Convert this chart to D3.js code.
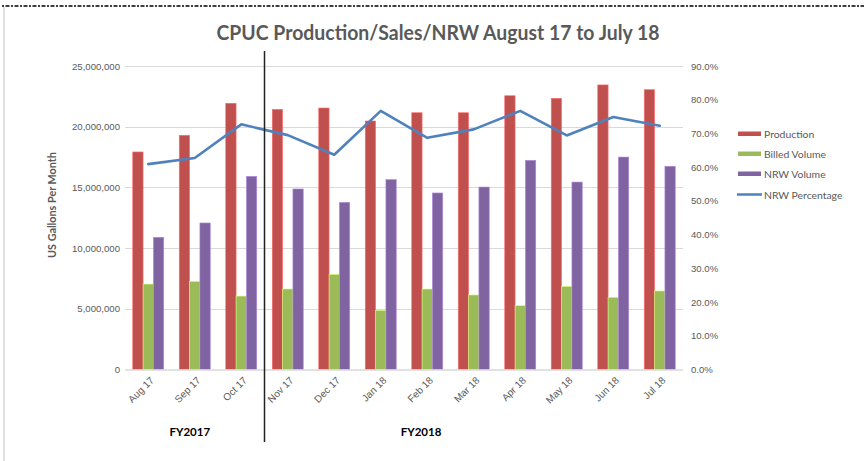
<!DOCTYPE html>
<html>
<head>
<meta charset="utf-8">
<script src="https://cdn.jsdelivr.net/npm/d3@7"></script>
<style>
  html, body { margin: 0; padding: 0; background: #fff; }
  svg { display: block; font-family: Lato, "Open Sans", sans-serif; }
</style>
</head>
<body>
<svg id="chart" width="864" height="461"></svg>
<script>
const months = ["Aug 17","Sep 17","Oct 17","Nov 17","Dec 17","Jan 18","Feb 18","Mar 18","Apr 18","May 18","Jun 18","Jul 18"];
const production = [17920000,19290000,21930000,21430000,21540000,20470000,21150000,21150000,22550000,22340000,23440000,23050000];
const billed     = [7040000,7260000,6050000,6630000,7840000,4870000,6630000,6140000,5260000,6850000,5950000,6470000];
const nrwVolume  = [10890000,12070000,15910000,14870000,13770000,15640000,14540000,15030000,17230000,15440000,17500000,16740000];
const nrwPct     = [60.9,62.7,72.7,69.5,63.7,76.7,68.7,71.2,76.7,69.4,74.9,72.3];
const leftTicks  = [0,5000000,10000000,15000000,20000000,25000000];
const rightTicks = [0,10,20,30,40,50,60,70,80,90];
const seriesNames = ["Production","Billed Volume","NRW Volume"];
const seriesColors = ["#C0504D","#9BBB59","#8064A2"];
const lineName = "NRW Percentage";
const lineColor = "#4F81BD";
const fiscalYears = [{label:"FY2017", from:0, to:2},{label:"FY2018", from:3, to:11}];

const svg = d3.select("#chart");
const plot = {left:125, right:683, top:66, bottom:369.5};

// frame
svg.append("line").attr("x1",2).attr("x2",864).attr("y1",6).attr("y2",6)
  .attr("stroke","#000").attr("stroke-width",1.3).attr("stroke-dasharray","2,1.5,4,1.5");
svg.append("line").attr("x1",4).attr("x2",4).attr("y1",7).attr("y2",461)
  .attr("stroke","#e0e0e0").attr("stroke-width",2);

const x = d3.scaleBand().domain(months).range([plot.left, plot.right]).padding(0);
const xs = d3.scaleBand().domain(seriesNames).range([0, x.bandwidth()]).paddingInner(0).paddingOuter(0.75);
const y = d3.scaleLinear().domain([0,25000000]).range([plot.bottom, plot.top]);
const y2 = d3.scaleLinear().domain([0,90]).range([plot.bottom, plot.top]);

// gridlines
svg.append("g").selectAll("line").data(leftTicks.slice(1)).join("line")
  .attr("x1",plot.left).attr("x2",plot.right)
  .attr("y1",d=>Math.round(y(d))+0.5).attr("y2",d=>Math.round(y(d))+0.5)
  .attr("stroke","#d9d9d9").attr("stroke-width",1);

// left axis labels
const leftAxis = d3.axisLeft(y).tickValues(leftTicks).tickFormat(d3.format(",")).tickSize(0).tickPadding(5);
const gl = svg.append("g").attr("transform",`translate(${plot.left},0)`).call(leftAxis);
gl.select(".domain").remove();
gl.selectAll("text").attr("fill","#595959").style("font-size","9.6px").attr("dy","0.32em");

// right axis labels
const rightAxis = d3.axisRight(y2).tickValues(rightTicks).tickFormat(d=>d.toFixed(1)+"%").tickSize(0).tickPadding(8);
const gr = svg.append("g").attr("transform",`translate(${plot.right},0)`).call(rightAxis);
gr.select(".domain").remove();
gr.selectAll("text").attr("fill","#595959").style("font-size","9.6px").attr("dy","0.32em");

// bars
const seriesData = [production, billed, nrwVolume];
seriesData.forEach((arr, si) => {
  svg.append("g").selectAll("rect").data(arr).join("rect")
    .attr("x",(d,i)=>x(months[i]) + xs(seriesNames[si]))
    .attr("width",xs.bandwidth())
    .attr("y",d=>y(d))
    .attr("height",d=>y(0)-y(d))
    .attr("fill",seriesColors[si])
    .attr("stroke",d3.color(seriesColors[si]).brighter(0.9))
    .attr("stroke-width",0.6);
});

// baseline
svg.append("line").attr("x1",plot.left).attr("x2",plot.right)
  .attr("y1",plot.bottom+0.5).attr("y2",plot.bottom+0.5)
  .attr("stroke","#d9d9d9").attr("stroke-width",1.5);

// line
const line = d3.line().x((d,i)=>x(months[i])+x.bandwidth()/2).y(d=>y2(d));
svg.append("path").datum(nrwPct).attr("d",line)
  .attr("fill","none").attr("stroke",lineColor).attr("stroke-width",2.6)
  .attr("stroke-linejoin","round").attr("stroke-linecap","round");

// x labels
const xAxis = d3.axisBottom(x).tickSize(0).tickPadding(0);
const gx = svg.append("g").attr("transform",`translate(0,${plot.bottom})`).call(xAxis);
gx.select(".domain").remove();
gx.selectAll("text")
  .attr("fill","#595959").style("font-size","10px")
  .attr("text-anchor","end")
  .attr("transform","translate(4,9) rotate(-45)")
  .attr("dy","0.35em").attr("y",0);

// fiscal year labels
svg.append("g").selectAll("text").data(fiscalYears).join("text")
  .attr("x",(d,i)=> i===0 ? (x(months[d.from]) + x(months[d.to]) + x.bandwidth())/2 - 5 : 421)
  .attr("y",436)
  .attr("text-anchor","middle").attr("font-weight","bold").style("font-size","11.5px").attr("fill","#000")
  .text(d=>d.label);

// separator line
const sepX = (x(months[2]) + x(months[3]) + x.bandwidth())/2;
svg.append("line").attr("x1",sepX).attr("x2",sepX).attr("y1",51).attr("y2",442)
  .attr("stroke","#222").attr("stroke-width",1.5);

// title
svg.append("text").attr("x",438).attr("y",40).attr("text-anchor","middle")
  .attr("font-weight","bold").style("font-size","20px").attr("fill","#595959")
  .attr("textLength",443).attr("lengthAdjust","spacingAndGlyphs")
  .text("CPUC Production/Sales/NRW August 17 to July 18");

// y title
svg.append("text").attr("transform","translate(56,205) rotate(-90)")
  .attr("text-anchor","middle").attr("font-weight","bold").style("font-size","10.8px").attr("fill","#595959")
  .text("US Gallons Per Month");

// legend
const legendItems = seriesNames.concat([lineName]);
const legendColors = seriesColors.concat([lineColor]);
const legendY = [135, 155, 175, 196];
const lg = svg.append("g");
legendItems.forEach((name,i)=>{
  if (i<3) {
    lg.append("rect").attr("x",738).attr("y",legendY[i]-3.5).attr("width",23).attr("height",4.5).attr("fill",legendColors[i]);
  } else {
    lg.append("line").attr("x1",737).attr("x2",762).attr("y1",legendY[i]-1.5).attr("y2",legendY[i]-1.5)
      .attr("stroke",legendColors[i]).attr("stroke-width",2.5);
  }
  lg.append("text").attr("x",764).attr("y",legendY[i]).attr("dy","0.32em")
    .style("font-size","10.4px").attr("fill","#595959").text(name);
});
</script>
</body>
</html>
